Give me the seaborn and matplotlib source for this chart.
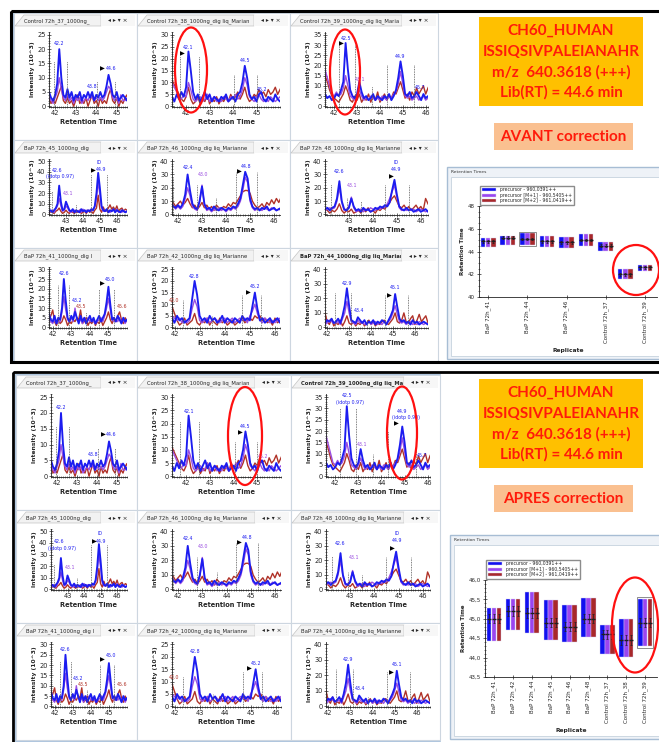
import numpy as np
import pandas as pd
import matplotlib.pyplot as plt
import seaborn as sns
from matplotlib.patches import Rectangle, Ellipse, Polygon
from matplotlib.ticker import MultipleLocator, FuncFormatter

# chromatogram sampling grid (retention time, min)
rt = np.round(np.arange(41.4, 46.65, 0.1), 1)

# intensities (10^3): precursor (blue), M+1 (purple), M+2 (brown)
c37_blue = [3,4,2,5,3,2,4,8,20,10, 4,3,6,3,5,2,4,3,5,2, 4,3,5,3,5,2,4,3,5,3, 4,7,11,8,4,3,5,2,3,4, 3,2,4,3,2,3,4,2,3,3, 2,3,2]
c37_purple = [2,3,1,3,2,1,3,5,10,6, 3,2,4,2,3,1,3,2,3,1, 2,3,2,4,3,2,3,2,3,2, 3,5,7,6,3,2,3,1,4,2, 2,3,1,2,3,2,1,2,3,2, 1,2,2]
c37_brown = [1,2,0,3,1,2,1,3,5,7, 2,1,3,1,2,0,2,4,1,2, 1,3,0,2,4,1,2,0,3,1, 2,1,4,6,2,1,3,0,2,1, 3,4,1,2,0,2,1,3,1,2, 1,2,1]

c38_blue = [4,2,5,3,6,4,8,23,15,6, 3,5,2,4,6,3,5,2,4,3, 2,4,3,5,2,3,4,2,5,6, 10,17,12,5,3,4,2,5,6,3, 2,4,3,2,5,3,2,4,3,2, 3,2,4]
c38_purple = [10,8,6,4,3,5,4,10,7,3, 2,3,4,2,3,5,2,3,4,2, 3,2,4,3,2,4,3,5,3,4, 7,12,9,4,3,2,4,5,3,2, 3,2,4,3,2,3,4,2,3,2, 2,3,2]
c38_brown = [11,9,7,5,3,2,4,8,3,1, 2,4,1,3,2,5,1,3,2,4, 1,3,2,4,2,5,3,4,6,3, 5,8,4,2,3,5,4,7,5,6, 4,7,5,6,8,5,7,9,6,8, 7,9,6]

c39_blue = [5,3,6,4,5,3,4,6,5,8, 12,31,18,8,5,4,6,12,7,4, 5,3,4,6,3,5,4,3,5,4, 6,3,5,8,14,22,15,6,5,7, 4,5,7,5,3,6,4,5,3,6, 4,5,3]
c39_purple = [22,20,18,14,10,6,5,7,5,6, 9,15,10,5,4,3,5,8,5,3, 4,3,5,4,3,4,3,5,4,3, 5,4,6,7,11,17,11,5,4,5, 3,4,5,3,4,5,3,4,5,3, 4,3,5]
c39_brown = [20,18,15,12,8,5,4,3,2,4, 6,10,7,3,2,5,3,6,2,4, 3,6,2,5,3,7,2,4,6,3, 5,4,7,6,9,12,8,4,6,3, 7,5,9,6,8,10,6,9,11,7, 10,8,9]

bap45_blue = [3,2,4,3,5,2,3,4,2,4, 6,10,27,12,4,5,12,8,4,3, 5,2,4,3,2,5,3,4,2,4, 3,5,4,8,20,39,25,8,4,3, 5,2,4,3,5,2,4,3,2,4, 3,2,3]
bap45_purple = [2,3,2,4,2,3,2,3,4,2, 5,8,15,8,3,4,8,6,3,2, 3,4,2,3,4,2,5,3,4,3, 4,3,5,7,16,30,19,6,3,4, 3,4,2,3,4,3,5,2,3,2, 4,2,3]
bap45_brown = [1,3,2,1,4,2,1,3,2,1, 3,4,6,3,1,2,4,2,1,3, 2,1,3,2,4,1,2,3,1,4, 2,3,1,4,6,18,5,2,7,3, 4,6,9,5,7,4,8,3,5,6, 3,5,4]

bap46_blue = [9,8,7,9,6,5,7,5,8,15, 30,18,8,5,4,10,21,8,4,5, 3,6,4,3,5,4,3,5,4,6, 5,8,12,22,32,27,12,6,4,5, 3,5,4,6,3,4,5,3,4,5, 3,4,3]
bap46_purple = [7,6,8,5,7,4,6,4,6,12, 20,14,6,4,3,9,22,7,3,4, 2,4,3,5,3,4,2,4,3,5, 4,6,10,18,28,24,10,5,3,4, 4,3,5,4,3,5,4,3,4,3, 4,3,4]
bap46_brown = [10,8,11,7,9,6,8,10,7,9, 12,8,5,7,4,6,9,5,7,4, 6,3,7,5,4,6,5,8,6,9, 8,11,14,17,18,18,16,10,7,5, 6,8,5,9,7,11,8,12,9,13, 10,12,9]

bap48_blue = [4,3,5,4,3,6,4,5,3,5, 6,12,25,10,4,3,5,12,6,3, 4,2,5,3,4,2,3,5,4,6, 5,7,6,9,18,26,15,6,4,3, 5,3,4,2,3,4,2,3,4,2, 3,2,3]
bap48_purple = [3,4,3,5,3,4,3,4,5,4, 5,10,20,9,3,4,6,13,5,2, 3,4,2,4,3,5,4,3,5,4, 6,5,8,12,17,22,13,5,3,4, 3,4,3,4,2,3,4,3,2,3, 2,3,2]
bap48_brown = [2,4,1,3,5,2,4,3,1,3, 2,4,8,3,1,3,2,4,1,2, 3,1,4,2,5,2,3,1,4,3, 5,4,7,9,12,14,10,6,5,7, 4,6,3,5,7,4,6,3,12,8, 5,6,4]

bap41_blue = [4,6,3,5,7,4,3,6,2,5, 4,10,25,14,5,3,6,4,8,5, 2,6,3,5,2,4,6,3,5,2, 4,6,3,5,7,13,21,12,4,5, 3,6,4,2,5,3,4,5,3,4, 3,4,3]
bap41_purple = [3,4,2,5,4,3,2,4,2,3, 3,8,16,9,4,3,5,3,10,4, 3,4,2,4,3,5,3,4,3,2, 3,4,5,3,6,10,15,9,4,3, 4,3,5,3,4,2,4,3,4,3, 2,3,3]
bap41_brown = [2,5,3,1,4,6,9,3,1,4, 2,3,6,4,1,3,2,4,3,5, 4,9,2,3,5,1,3,2,4,1, 3,2,4,1,3,5,8,4,2,5, 3,6,8,4,2,5,3,4,2,3, 4,2,3]

bap42_blue = [3,4,2,5,3,4,2,5,3,4, 2,3,4,12,20,14,5,3,4,2, 5,3,4,2,3,5,2,4,3,2, 4,3,2,5,3,4,3,9,15,8, 3,4,2,3,4,2,3,4,2,3, 4,2,3]
bap42_purple = [4,5,6,8,7,5,4,3,4,2, 3,2,3,8,12,9,3,2,3,4, 2,3,4,3,2,3,4,2,3,4, 2,3,4,3,4,2,5,7,10,6, 3,2,4,3,2,3,2,3,4,2, 3,2,3]
bap42_brown = [8,10,9,11,10,9,6,3,1,2, 4,1,2,3,6,2,1,3,2,4, 1,3,2,1,4,2,3,1,2,3, 1,2,3,4,2,3,4,3,5,4, 5,3,4,2,3,1,4,2,3,2, 3,2,1]

bap44_blue = [5,3,6,4,7,3,5,4,6,3, 4,6,3,8,15,27,15,5,4,3, 7,5,3,5,2,4,3,5,2,4, 3,5,4,2,5,8,12,23,14,6, 4,5,3,4,2,5,3,4,2,3, 4,3,2]
bap44_purple = [3,4,5,3,4,2,3,5,4,3, 3,4,2,6,10,18,10,4,3,2, 5,3,4,2,3,4,2,3,4,2, 3,2,4,3,4,6,10,15,9,4, 3,4,2,3,4,2,3,2,4,3, 2,3,2]
bap44_brown = [2,4,1,3,5,10,4,2,6,1, 3,2,5,1,4,8,3,2,4,1, 3,2,4,1,3,5,2,4,1,3, 2,4,5,3,2,4,6,10,4,3, 5,10,4,3,6,8,2,5,9,4, 6,8,3]

B, P, R = '#1c1cf0', '#9a4ee0', '#b03228'

# integration boundaries (rt, top) and peak labels (rt, y, text, colour)
c37_bounds = [(41.95, 16), (42.6, 16), (44.05, 9), (44.9, 9)]
c38_bounds = [(41.75, 21), (42.55, 21), (44.05, 13), (45.0, 13)]
c39_bounds = [(42.2, 30), (42.9, 30), (43.65, 10), (44.3, 20), (45.5, 20)]
bap45_bounds = [(42.2, 22), (43.6, 10), (44.45, 38), (45.4, 38)]
bap46_bounds = [(41.8, 28), (42.8, 22), (43.6, 12), (44.4, 32), (45.3, 32)]
bap48_bounds = [(42.25, 23), (42.9, 12), (43.5, 10), (44.5, 22), (45.5, 22)]
bap41_bounds = [(42.3, 22), (42.9, 22), (43.8, 8), (44.5, 20), (45.3, 20)]
bap42_bounds = [(42.35, 12), (43.5, 5), (44.7, 14), (45.45, 14)]
bap44_bounds = [(42.35, 24), (43.1, 24), (43.8, 6), (44.65, 22), (45.7, 22)]

c37_labels = [(42.2, 21, '42.2', B), (43.8, 6, '43.8', B), (44.7, 12.5, '44.6', B)]
c38_labels_avant = [(42.1, 23.5, '42.1', B), (44.5, 18, '44.5', B), (45.25, 6, '45.2', B)]
c38_labels_apres = [(42.1, 23.5, '42.1', B), (44.5, 18, '44.5', B), (45.25, 6.5, '45.2', P)]
c39_labels_avant = [(42.5, 32, '42.5', B), (43.15, 12, '43.1', P), (44.9, 23, '44.9', B), (45.75, 8, '45.7', B)]
c39_labels_apres = [(42.5, 34.5, '42.5', B), (42.65, 31.5, '(idotp 0.97)', B), (43.15, 13, '43.1', P),
                    (44.9, 27.5, '44.9', B), (45.05, 25, '(idotp 0.90)', B), (45.75, 8, '45.7', B)]
bap45_labels = [(42.5, 39, '42.6', B), (42.65, 33, '(idotp 0.97)', B), (43.15, 17, '43.1', P),
                (44.95, 46, 'ID', B), (45.05, 39.5, '44.9', B)]
bap46_labels = [(42.4, 33, '42.4', B), (43.05, 28, '43.0', P), (44.85, 34, '44.8', B)]
bap48_labels = [(42.6, 30, '42.6', B), (43.15, 20, '43.1', P), (44.95, 37, 'ID', B), (44.95, 32, '44.9', B)]
bap41_labels = [(42.6, 26.5, '42.6', B), (43.3, 12.5, '43.2', B), (43.55, 9.5, '43.5', R),
                (45.1, 23.5, '45.0', B), (45.75, 9.5, '45.6', R)]
bap42_labels = [(42.8, 21, '42.8', B), (42.0, 10.5, '42.0', R), (45.2, 16.5, '45.2', B)]
bap44_labels = [(42.9, 28.5, '42.9', B), (43.45, 10, '43.4', B), (45.1, 25.5, '45.1', B)]

# retention time summary (start, end, apex) per replicate
replicates = ['BaP 72h_41', 'BaP 72h_42', 'BaP 72h_44', 'BaP 72h_45', 'BaP 72h_46',
              'BaP 72h_48', 'Control 72h_37', 'Control 72h_38', 'Control 72h_39']
avant_start = [44.4, 44.6, 44.55, 44.4, 44.35, 44.5, 44.05, 41.6, 42.25]
avant_end = [45.2, 45.4, 45.65, 45.4, 45.3, 45.5, 44.8, 42.45, 42.85]
avant_apex = [44.9, 45.2, 45.1, 44.9, 44.8, 45.0, 44.5, 42.0, 42.6]
apres_start = [44.44, 44.72, 44.64, 44.45, 44.39, 44.53, 44.09, 44.02, 44.30]
apres_end = [45.27, 45.5, 45.7, 45.48, 45.35, 45.53, 44.85, 44.99, 45.51]
apres_apex = [45.0, 45.2, 45.15, 44.9, 44.8, 45.0, 44.6, 44.45, 44.9]
series_labels = ['precursor - 960,0391++', 'precursor [M+1] - 960,5405++', 'precursor [M+2] - 961,0419++']
series_colors = ['#1010f0', '#9a45f0', '#a8282a']

sns.set_theme(style='white')
plt.rcParams['font.family'] = ['DejaVu Sans']

W, H = 659, 742
fig = plt.figure(figsize=(W / 100, H / 100), dpi=100)


def frac(x0, y0, x1, y1):
    return [x0 / W, 1 - y1 / H, (x1 - x0) / W, (y1 - y0) / H]


bg = fig.add_axes([0, 0, 1, 1], zorder=0)
bg.set_xlim(0, W)
bg.set_ylim(H, 0)
bg.axis('off')
over = fig.add_axes([0, 0, 1, 1], zorder=30)
over.set_xlim(0, W)
over.set_ylim(H, 0)
over.axis('off')

pal = {'M+2': R, 'M+1': P, 'M': B}


def chromatogram(x0, y0, x1, y1, title, blue, purple, brown, xlim, xticks, ymax, ystep,
                 bounds, labels, flag, bold=False):
    bg.add_patch(Rectangle((x0, y0), x1 - x0, y1 - y0, fc='white', ec='#cdd6e0', lw=0.8))
    bg.add_patch(Polygon([(x0 + 1, y0 + 13), (x0 + 10, y0 + 2), (x1 - 36, y0 + 2), (x1 - 36, y0 + 13)],
                         closed=True, fc='#f2f2f2', ec='#c4c4c4', lw=0.5))
    bg.add_patch(Rectangle((x1 - 36, y0 + 2), 34, 11, fc='#f7f7f7', ec='none'))
    t = bg.text(x0 + 10, y0 + 8, title, fontsize=3.8, va='center', ha='left',
                fontweight='bold' if bold else 'normal')
    clip = Rectangle((x0 + 9, y0 + 1), x1 - x0 - 46, 13, transform=bg.transData)
    t.set_clip_path(clip)
    t.set_clip_on(True)
    bg.text(x1 - 19, y0 + 8, '◂ ▸ ▾ ×', fontsize=4.2, va='center', ha='center')

    ax = fig.add_axes(frac(x0 + 35, y0 + 19, x1 - 10, y1 - 33), zorder=5)
    df = pd.DataFrame({'rt': np.tile(rt, 3),
                       'intensity': np.concatenate([brown, purple, blue]),
                       'trace': np.repeat(['M+2', 'M+1', 'M'], len(rt))})
    sns.lineplot(data=df, x='rt', y='intensity', hue='trace', hue_order=['M+2', 'M+1', 'M'],
                 size='trace', sizes={'M+2': 1.0, 'M+1': 1.0, 'M': 1.35},
                 palette=pal, estimator=None, legend=False, ax=ax)
    for b, top in bounds:
        ax.plot([b, b], [0, top], ls=(0, (1, 1)), color='#555555', lw=0.6)
    for x, y, s, c in labels:
        ax.text(x, y, s, color=c, fontsize=3.4, ha='center', va='bottom')
    ax.text(flag[0], flag[1], '▶', fontsize=4.5, ha='center', va='center', color='black')
    ax.set_xlim(*xlim)
    ax.set_ylim(-0.01 * ymax, ymax * 1.04)
    ax.set_xticks(xticks)
    ax.set_yticks(np.arange(0, ymax + 0.1, ystep))
    ax.yaxis.set_minor_locator(MultipleLocator(ystep / 5))
    ax.xaxis.set_minor_locator(MultipleLocator(0.1))
    ax.tick_params(which='major', length=2.5, width=0.5, direction='inout', labelsize=4.8, pad=1.2)
    ax.tick_params(which='minor', length=1.4, width=0.4, direction='inout')
    ax.tick_params(axis='x', which='both', bottom=True)
    ax.tick_params(axis='y', which='both', left=True)
    for s in ['top', 'right']:
        ax.spines[s].set_visible(False)
    for s in ['left', 'bottom']:
        ax.spines[s].set_linewidth(0.6)
        ax.spines[s].set_color('#222222')
    ax.set_xlabel('Retention Time', fontsize=4.8, fontweight='bold', labelpad=2)
    ax.set_ylabel('Intensity (10^3)', fontsize=4.3, fontweight='bold', labelpad=1.5)
    ax.patch.set_alpha(0)


def rt_chart(win, box, start, end, apex, ylim, major, minor, fmt, every, hl):
    wx0, wy0, wx1, wy1 = win
    bg.add_patch(Rectangle((wx0, wy0), wx1 - wx0, wy1 - wy0, fc='#eef2f7', ec='#a7bdd4', lw=1))
    bg.add_patch(Rectangle((wx0 + 4, wy0 + 10), wx1 - wx0 - 8, wy1 - wy0 - 13, fc='white', ec='#c6d2de', lw=0.6))
    bg.text(wx0 + 4, wy0 + 5, 'Retention Times', fontsize=3.2, va='center', color='#333333')
    ax = fig.add_axes(frac(*box), zorder=5)
    x = np.arange(len(replicates))
    start, end = np.array(start), np.array(end)
    handles = []
    for k, off in enumerate([-0.26, 0, 0.26]):
        h = ax.bar(x + off, end - start, bottom=start, width=0.23, color=series_colors[k],
                   edgecolor='#d8d0f0', lw=0.3, label=series_labels[k])
        handles.append(h)
        ax.errorbar(x + off, apex, yerr=0.12, fmt='_', color='#202020', ms=2.5,
                    elinewidth=0.5, capsize=1.0, capthick=0.5)
    ax.add_patch(Rectangle((hl - 0.42, start[hl] - 0.04), 0.84, end[hl] - start[hl] + 0.08,
                           fill=False, ec='#7a7a7a', lw=0.6, zorder=4))
    ax.set_xlim(-0.47, 8.62)
    ax.set_ylim(*ylim)
    ax.set_xticks(x[::every])
    ax.set_xticklabels(replicates[::every], rotation=90, fontsize=3.2)
    ax.set_yticks(major)
    ax.yaxis.set_major_formatter(FuncFormatter(fmt))
    ax.yaxis.set_minor_locator(MultipleLocator(minor))
    ax.tick_params(which='major', length=2.5, width=0.5, direction='inout', labelsize=4, pad=1.5)
    ax.tick_params(which='minor', length=1.4, width=0.4, direction='inout')
    ax.tick_params(axis='x', which='both', bottom=True)
    ax.tick_params(axis='y', which='both', left=True)
    for s in ['top', 'right']:
        ax.spines[s].set_visible(False)
    for s in ['left', 'bottom']:
        ax.spines[s].set_linewidth(0.6)
        ax.spines[s].set_color('#222222')
    ax.set_xlabel('Replicate', fontsize=4.3, fontweight='bold', labelpad=4)
    ax.set_ylabel('Retention Time', fontsize=4, fontweight='bold', labelpad=2)
    ax.legend(handles=handles, loc='lower left', bbox_to_anchor=(0.0, 1.0), fontsize=3.3,
              handlelength=3.2, handleheight=0.7, borderpad=0.3, labelspacing=0.1,
              frameon=True, fancybox=False, edgecolor='#707070', borderaxespad=0.3)
    ax.patch.set_alpha(0)


def info_boxes(y0, word):
    bg.add_patch(Rectangle((479, y0), 164, 89, fc='#ffc000', ec='none'))
    lines = ['CH60_HUMAN', 'ISSIQSIVPALEIANAHR', 'm/z  640.3618 (+++)', 'Lib(RT) = 44.6 min']
    for i, s in enumerate(lines):
        bg.text(561, y0 + 14 + 20.5 * i, s, fontsize=11, fontweight='bold', color='#ff1a0a',
                ha='center', va='center', family=['Lato', 'DejaVu Sans'])
    bg.add_patch(Rectangle((494, y0 + 106), 139, 27, fc='#fac090', ec='none'))
    bg.text(563.5, y0 + 120, word + ' correction', fontsize=11, fontweight='bold', color='#ff1a0a',
            ha='center', va='center', family=['Lato', 'DejaVu Sans'])


def half(cols, rows, c38_lab, c38_flag, c39_lab, c39_flag, bold39, bold44):
    specs = [
        [('Control 72h_37_1000ng_', c37_blue, c37_purple, c37_brown, (41.7, 45.5), [42, 43, 44, 45], 25, 5,
          c37_bounds, c37_labels, (44.3, 13), False),
         ('Control 72h_38_1000ng_dig liq_Marian', c38_blue, c38_purple, c38_brown, (41.4, 46.0), [42, 43, 44, 45], 30, 5,
          c38_bounds, c38_lab, c38_flag, False),
         ('Control 72h_39_1000ng_dig liq_Maria', c39_blue, c39_purple, c39_brown, (41.6, 46.1), [42, 43, 44, 45, 46], 35, 5,
          c39_bounds, c39_lab, c39_flag, bold39)],
        [('BaP 72h_45_1000ng_dig', bap45_blue, bap45_purple, bap45_brown, (42.0, 46.6), [43, 44, 45, 46], 50, 10,
          bap45_bounds, bap45_labels, (44.6, 41), False),
         ('BaP 72h_46_1000ng_dig liq_Marianne', bap46_blue, bap46_purple, bap46_brown, (41.75, 46.25), [42, 43, 44, 45, 46], 40, 10,
          bap46_bounds, bap46_labels, (44.55, 32), False),
         ('BaP 72h_48_1000ng_dig liq_Marianne', bap48_blue, bap48_purple, bap48_brown, (42.0, 46.3), [43, 44, 45, 46], 40, 10,
          bap48_bounds, bap48_labels, (44.75, 28), False)],
        [('BaP 72h_41_1000ng_dig l', bap41_blue, bap41_purple, bap41_brown, (41.8, 46.0), [42, 43, 44, 45], 30, 5,
          bap41_bounds, bap41_labels, (44.65, 22.5), False),
         ('BaP 72h_42_1000ng_dig liq_Marianne', bap42_blue, bap42_purple, bap42_brown, (41.9, 46.2), [42, 43, 44, 45, 46], 25, 5,
          bap42_bounds, bap42_labels, (44.95, 15), False),
         ('BaP 72h_44_1000ng_dig liq_Marianne', bap44_blue, bap44_purple, bap44_brown, (41.9, 46.6), [42, 43, 44, 45, 46], 40, 10,
          bap44_bounds, bap44_labels, (44.85, 22), bold44)],
    ]
    for r in range(3):
        for c in range(3):
            chromatogram(cols[c], rows[r], cols[c + 1], rows[r + 1], *specs[r][c])


# ---- top block (AVANT) ----
bg.add_patch(Rectangle((14, 13), 424, 348, fc='white', ec='#9fbbd8', lw=1.2))
half([14, 137, 290, 438], [13, 140, 248, 361],
     c38_labels_avant, (41.85, 22), c39_labels_avant, (42.3, 30.5), False, True)
info_boxes(17, 'AVANT')
rt_chart((447, 167, 670, 359), (479, 206, 657, 297), avant_start, avant_end, avant_apex,
         (40, 48), [40, 42, 44, 46, 48], 0.5, lambda v, _: f'{v:.0f}', 2, 2)
bg.add_patch(Rectangle((11, 11), 700, 351, fill=False, ec='black', lw=2.2))

# ---- bottom block (APRES) ----
bg.add_patch(Rectangle((16, 375), 424, 366, fc='white', ec='#9fbbd8', lw=1.2))
half([16, 137, 291, 440], [375, 510, 623, 740],
     c38_labels_apres, (44.28, 16.5), c39_labels_apres, (44.65, 23), True, False)
info_boxes(379, 'APRES')
rt_chart((450, 535, 670, 739), (485, 580, 657, 677), apres_start, apres_end, apres_apex,
         (43.5, 46.0), [43.5, 44.0, 44.5, 45.0, 45.5, 46.0], 0.1,
         lambda v, _: f'{v:.1f}'.replace('.', ','), 1, 8)
bg.add_patch(Rectangle((13, 372), 700, 400, fill=False, ec='black', lw=2.0))

# red circles
for cx, cy, w, h in [(191, 70, 32, 85), (345, 72, 30, 85), (636, 270, 46, 50),
                     (245, 436, 34, 98), (402, 433, 30, 93), (635, 625, 46, 95)]:
    over.add_patch(Ellipse((cx, cy), w, h, fill=False, ec='#ff1010', lw=1.6))

fig.savefig('out.png', dpi=100)
